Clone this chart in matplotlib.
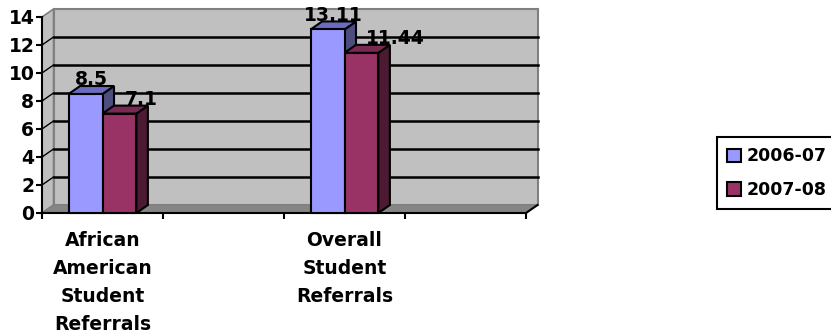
import matplotlib.pyplot as plt
from matplotlib.patches import Polygon, Rectangle, Patch
import numpy as np

categories = ["African American Student Referrals", "", "Overall Student Referrals", ""]
years = ["2006-07", "2007-08"]
referrals_0607 = [8.5, np.nan, 13.11, np.nan]
referrals_0708 = [7.1, np.nan, 11.44, np.nan]
yticks = [0, 2, 4, 6, 8, 10, 12, 14]

front_colors = ["#9999FF", "#993366"]
top_colors = ["#6B6BC0", "#7A2952"]
side_colors = ["#4D4D80", "#4C1A33"]

plt.rcParams["font.family"] = "DejaVu Sans"
plt.rcParams["font.weight"] = "bold"
plt.rcParams["font.size"] = 13.5

fig = plt.figure(figsize=(8.31, 3.35), dpi=100)
ax = fig.add_axes([42 / 831, 122 / 335, 484 / 831, 196 / 335])
n = len(categories)
ymax = yticks[-1]
ax.set_xlim(0, n)
ax.set_ylim(0, ymax)
ax.set_facecolor("none")

# depth of the 3d box, in data units
dx = 11.5 * n / 484
dy = 8 * ymax / 196

# back wall, left wall and floor
back = Polygon([(dx, dy), (n + dx, dy), (n + dx, ymax + dy), (dx, ymax + dy)],
               closed=True, fc="#C0C0C0", ec="#808080", lw=1.5, clip_on=False, zorder=0.5)
left = Polygon([(0, 0), (dx, dy), (dx, ymax + dy), (0, ymax)],
               closed=True, fc="#C0C0C0", ec="#808080", lw=1.2, clip_on=False, zorder=0.5)
floor = Polygon([(0, 0), (n, 0), (n + dx, dy), (dx, dy)],
                closed=True, fc="#858585", ec="#808080", lw=1, clip_on=False, zorder=0.5)
for p in (back, left, floor):
    ax.add_patch(p)

for y in yticks[1:-1]:
    ax.plot([dx, n + dx], [y + dy, y + dy], color="black", lw=1.8, clip_on=False, zorder=0.6)
    ax.plot([0, dx], [y, y + dy], color="black", lw=1, clip_on=False, zorder=0.6)
ax.plot([n, n + dx], [0, dy], color="black", lw=1.5, clip_on=False, zorder=3)

# 3d bars
w = 0.28
for j, vals in enumerate([referrals_0607, referrals_0708]):
    for i, v in enumerate(vals):
        if np.isnan(v):
            continue
        x0 = i + 0.5 - w + j * w
        x1 = x0 + w
        z = 3 + j
        ax.add_patch(Polygon([(x1, 0), (x1 + dx, dy), (x1 + dx, v + dy), (x1, v)],
                             closed=True, fc=side_colors[j], ec="black", lw=1.5,
                             clip_on=False, zorder=z))
        ax.add_patch(Polygon([(x0, v), (x1, v), (x1 + dx, v + dy), (x0 + dx, v + dy)],
                             closed=True, fc=top_colors[j], ec="black", lw=1.5,
                             clip_on=False, zorder=z))
        ax.add_patch(Rectangle((x0, 0), w, v, fc=front_colors[j], ec="black", lw=1.5,
                               clip_on=False, zorder=z))
        label = f"{v:g}"
        if j == 0:
            ax.text((x0 + x1) / 2 + dx / 2, v + dy + 0.05, label, ha="center",
                    va="baseline", zorder=6)
        else:
            ax.text((x0 + x1) / 2 + 0.04, v + dy + 0.05, label, ha="left",
                    va="baseline", zorder=6)

# axes
for s in ("top", "right"):
    ax.spines[s].set_visible(False)
for s in ("left", "bottom"):
    ax.spines[s].set_linewidth(1.5)
    ax.spines[s].set_zorder(2.5)
ax.set_yticks(yticks)
ax.tick_params(axis="y", direction="out", length=4.5, width=1.5, pad=1)
ax.set_xticks(np.arange(n + 1))
ax.set_xticklabels([])
ax.tick_params(axis="x", which="major", direction="out", length=4, width=1.5)
ax.set_xticks(np.arange(n) + 0.5, minor=True)
ax.set_xticklabels(["\n".join(c.split()) for c in categories], minor=True,
                   linespacing=1.6)
ax.tick_params(axis="x", which="minor", length=0, pad=13)

handles = [Patch(fc=front_colors[k], ec="black", lw=1.5) for k in range(2)]
leg = fig.legend(handles, years, loc="upper left",
                 bbox_to_anchor=(717 / 831, 1 - 137 / 335),
                 frameon=True, fancybox=False, edgecolor="black", framealpha=1,
                 handlelength=0.8, handleheight=0.8, handletextpad=0.3,
                 borderpad=0.6, labelspacing=0.9, borderaxespad=0, fontsize=12.5)
leg.get_frame().set_linewidth(1.5)

fig.savefig("out.png", dpi=100)
